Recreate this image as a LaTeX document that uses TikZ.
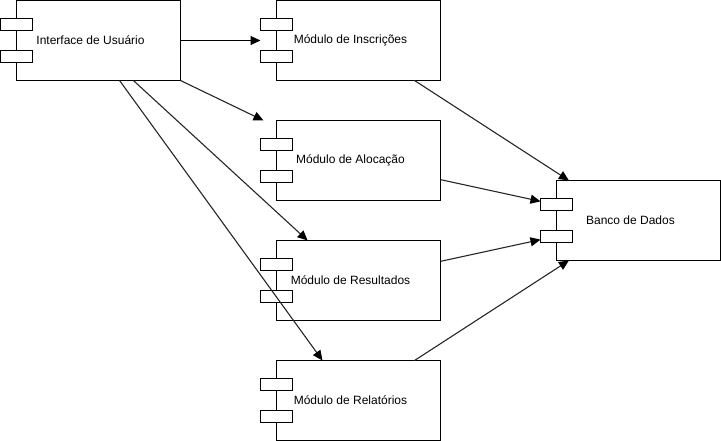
\documentclass[tikz,border=0pt]{standalone}
\usepackage{fontspec}
\setmainfont{Liberation Sans}
\usetikzlibrary{arrows.meta}
\newcommand{\mkcomp}[4]{%
  \node[compall] (#1) at (#2+90.5,#3+40.5) {};
  \node[compbody] (#1b) at ([xshift=8pt]#1.center) {};
  \node[compport, anchor=north west] (#1p1) at ([yshift=-18pt]#1.north west) {};
  \node[compport, anchor=north west] (#1p2) at ([yshift=-50pt]#1.north west) {};
  \node[comptext] (#1t) at (#1.center) {#4};
}
\begin{document}
\begin{tikzpicture}[x=1pt,y=-1pt,
  compall/.style={minimum width=180pt,minimum height=80pt,inner sep=0pt,outer sep=0pt},
  compbody/.style={draw=black,line width=1pt,minimum width=164pt,minimum height=80pt,inner sep=0pt,outer sep=0pt},
  compport/.style={draw=black,fill=white,line width=1pt,minimum width=32pt,minimum height=12pt,inner sep=0pt,outer sep=0pt},
  comptext/.style={font=\fontsize{12}{14}\selectfont,inner sep=0pt},
  arr/.style={draw=black,line width=1pt,-{Triangle[length=10pt,width=9pt]}},
  arrg/.style={draw=black!85,line width=1.1pt,-{Triangle[length=10pt,width=9pt,color=black,fill=black]}}
]
\useasboundingbox (0,0) rectangle (721,441);
\mkcomp{ui}{0}{0}{Interface de Usuário}
\mkcomp{ins}{260}{0}{Módulo de Inscrições}
\mkcomp{alo}{260}{120}{Módulo de Alocação}
\mkcomp{res}{260}{240}{Módulo de Resultados}
\mkcomp{rel}{260}{360}{Módulo de Relatórios}
\mkcomp{db}{540}{180}{Banco de Dados}
\draw[arr] (ui.east) -- (ins.west);
\draw[arrg] (ui.south east) -- ([xshift=3pt]alo.north west);
\draw[arrg] (ui.-43) -- (res.137);
\draw[arrg] (ui.-54) -- (rel.125);
\draw[arrg] (ins.-32.8) -- (db.147.6);
\draw[arrg] (alo.-12.5) -- (db.168.7);
\draw[arrg] (res.12.5) -- (db.-168);
\draw[arrg] (rel.32.8) -- (db.-147.6);
\end{tikzpicture}
\end{document}
